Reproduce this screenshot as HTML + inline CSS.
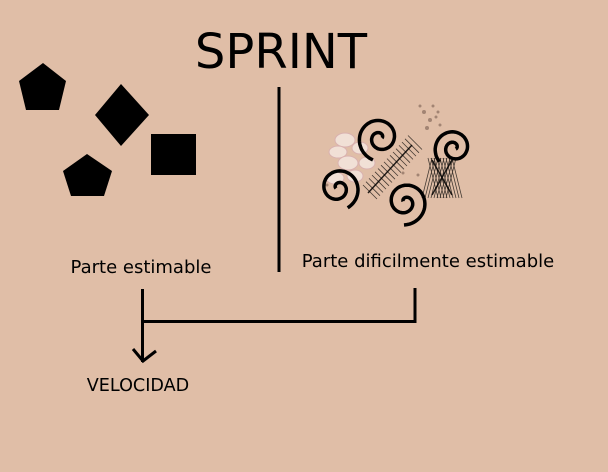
<!DOCTYPE html>
<html><head><meta charset="utf-8"><style>
html,body{margin:0;padding:0;background:#e0bea7;width:608px;height:472px;overflow:hidden}
svg{display:block}
text{font-family:"DejaVu Sans","Liberation Sans",sans-serif;fill:#000}
</style></head><body>
<svg id="s" width="608" height="472" viewBox="0 0 608 472">
<rect width="608" height="472" fill="#e0bea7"/>
<text x="281" y="68" font-size="48" text-anchor="middle">SPRINT</text>
<polygon points="43,63 66,81 59,110 26,110 19,81" fill="#000"/>
<polygon points="121,84 149,115 121,146 95,115" fill="#000"/>
<rect x="151" y="134" width="45" height="41" fill="#000"/>
<polygon points="87,154 112,171 104,196 71,196 63,171" fill="#000"/>
<line x1="279" y1="87" x2="279" y2="272" stroke="#000" stroke-width="3"/>
<text x="141" y="273" font-size="18" text-anchor="middle">Parte estimable</text>
<text x="428" y="267" font-size="18" text-anchor="middle">Parte dificilmente estimable</text>
<text x="138" y="391" font-size="17.6" text-anchor="middle">VELOCIDAD</text>
<g stroke="#000" stroke-width="3" fill="none">
<line x1="142.5" y1="289" x2="142.5" y2="362"/>
<line x1="142" y1="321.5" x2="416" y2="321.5"/>
<line x1="415" y1="288" x2="415" y2="323"/>
<polyline points="133,349 143,361 156,351"/>
</g>
<g fill="#f3e4dc" stroke="#d9b0b0" stroke-width="1" opacity="0.9">
<ellipse cx="345" cy="140" rx="10" ry="7"/><ellipse cx="338" cy="152" rx="9" ry="6"/>
<ellipse cx="360" cy="148" rx="8" ry="6"/><ellipse cx="348" cy="163" rx="10" ry="7"/>
<ellipse cx="367" cy="163" rx="8" ry="6"/><ellipse cx="335" cy="178" rx="9" ry="6"/>
<ellipse cx="355" cy="176" rx="8" ry="6"/>
</g>
<g stroke="#000" stroke-width="1.5" opacity="0.85">
<line x1="368" y1="193" x2="412" y2="145"/>
<line x1="432" y1="160" x2="452" y2="195"/><line x1="452" y1="160" x2="432" y2="195"/>
</g>
<g stroke="#000" stroke-width="0.8" opacity="0.7" id="hatch"></g>
<g fill="#7a5f52" opacity="0.6">
<circle cx="424" cy="112" r="2"/><circle cx="430" cy="120" r="2"/><circle cx="436" cy="117" r="1.5"/>
<circle cx="427" cy="128" r="2"/><circle cx="420" cy="106" r="1.5"/><circle cx="440" cy="125" r="1.5"/>
<circle cx="433" cy="106" r="1.5"/><circle cx="438" cy="112" r="1.5"/>
<circle cx="403" cy="173" r="1.5"/><circle cx="418" cy="175" r="1.5"/><circle cx="327" cy="185" r="1.5"/>
</g>
<g id="spirals" stroke="#000" stroke-width="3.5" fill="none"></g>
</svg>
<script>
var ns="http://www.w3.org/2000/svg";
function spiral(cx,cy,R,rot,flip){var d="";var turns=1.7,n=120;for(var i=0;i<=n;i++){var t=i/n;var a=rot+flip*t*turns*2*Math.PI;var r=2+t*R;var x=cx+r*Math.cos(a),y=cy+r*Math.sin(a);d+=(i?"L":"M")+x.toFixed(1)+","+y.toFixed(1);}
var p=document.createElementNS(ns,"path");p.setAttribute("d",d);document.getElementById("spirals").appendChild(p);}
spiral(380,138,21,0,-1);spiral(454,148,18,0.5,-1);spiral(338,188,20,3,1);spiral(405,202,21,3.5,1);
var h=document.getElementById("hatch");
function ln(x1,y1,x2,y2){var l=document.createElementNS(ns,"line");l.setAttribute("x1",x1);l.setAttribute("y1",y1);l.setAttribute("x2",x2);l.setAttribute("y2",y2);h.appendChild(l);}
for(var i=0;i<16;i++){var x=370+i*3,y=192-i*3.3;ln(x-7,y-7,x+7,y+7);}
for(var i=0;i<9;i++){ln(428+i*3,158,428+i*3+10,198);ln(456-i*3,158,446-i*3,198);}
</script>
</body></html>
